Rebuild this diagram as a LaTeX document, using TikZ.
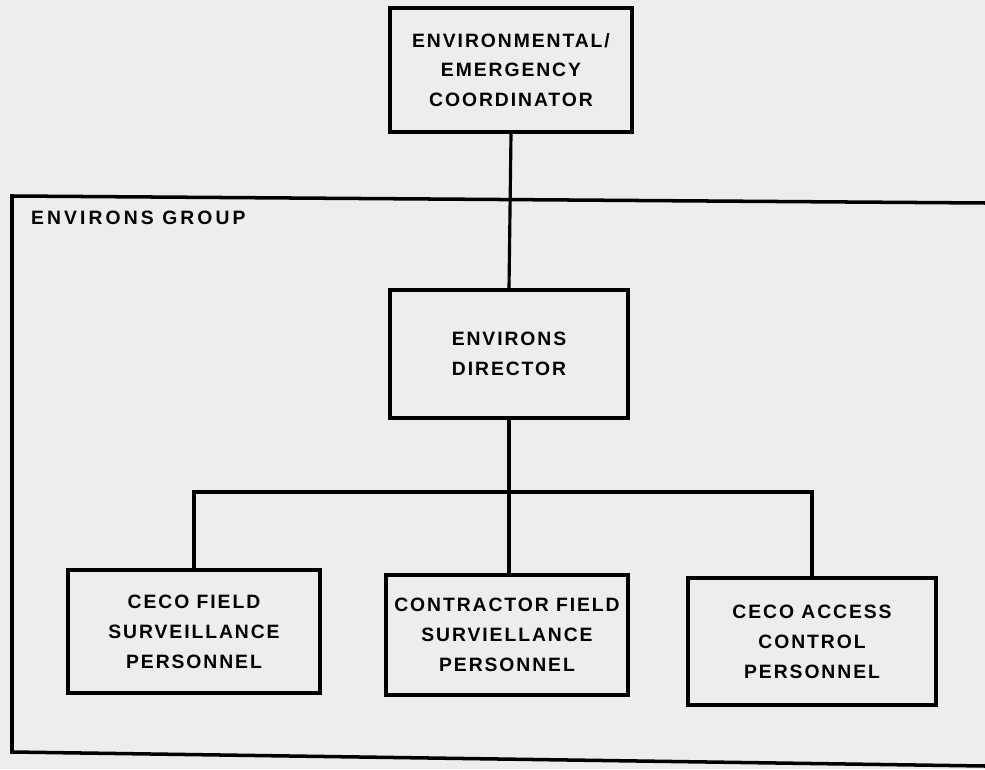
\documentclass[tikz,border=0pt]{standalone}
\usepackage{fontspec}
\setmainfont{Liberation Sans}[LetterSpace=10]
\usepackage{tikz}

\begin{document}
\begin{tikzpicture}[
		orgbox/.style={draw, line width=2pt, rectangle, align=center, inner sep=0pt},
		link/.style={line width=1.8pt},
		every node/.style={font=\bfseries\fontsize{11}{17}\selectfont}
	]
				\useasboundingbox[fill=black!7] (0,0) rectangle (19.7,15.38);
				\begin{scope}
					% group frame, runs off on the right
					\draw[line width=2pt] (19.7,11.32) -- (0.24,11.46) -- (0.24,0.34) -- (19.7,0.06);
					\node[anchor=west, font=\bfseries\fontsize{11}{17}\selectfont\addfontfeature{LetterSpace=16}] (group) at (0.5,11.02) {ENVIRONS GROUP};

					\node[orgbox, minimum width=4.84cm, minimum height=2.48cm] (coord) at (10.22,13.98) {ENVIRONMENTAL/\\EMERGENCY\\COORDINATOR};
					\node[orgbox, minimum width=4.76cm, minimum height=2.56cm] (director) at (10.18,8.30) {ENVIRONS\\DIRECTOR};

					\node[orgbox, minimum width=5.04cm, minimum height=2.46cm] (cecofield) at (3.88,2.75) {CECO FIELD\\SURVEILLANCE\\PERSONNEL};
					\node[orgbox, minimum width=4.84cm, minimum height=2.40cm] (contractor) at (10.14,2.68) {CONTRACTOR FIELD\\SURVIELLANCE\\PERSONNEL};
					\node[orgbox, minimum width=4.96cm, minimum height=2.54cm] (access) at (16.24,2.55) {CECO ACCESS\\CONTROL\\PERSONNEL};

					\coordinate (bar) at (10.18,5.54);

					\draw[link] (coord.south) -- (director.north);
					\draw[link] (director.south) -- (bar);
					\draw[link] (cecofield.north) |- (bar) -| (access.north); % branches
					\draw[link] (bar) -- (bar |- contractor.north);
				\end{scope}
			\end{tikzpicture}
\end{document}
